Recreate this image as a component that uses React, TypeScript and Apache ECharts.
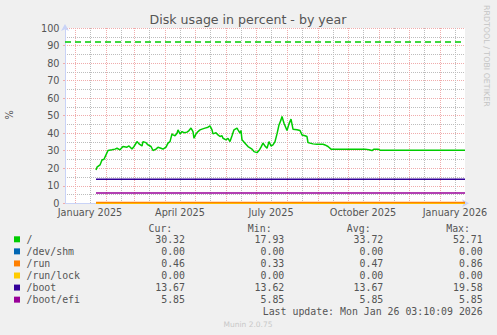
import React, { useEffect, useRef } from "react";
import * as echarts from "echarts";

// ---------- data ----------
const START_UTC = Date.UTC(2024, 11, 22); // first day shown on the x axis
const DAY_COUNT = 401;
const MONTH_NAMES = ["January", "February", "March", "April", "May", "June", "July", "August", "September", "October", "November", "December"];
const categories: string[] = Array.from({ length: DAY_COUNT }, (_, i) =>
  new Date(START_UTC + i * 86400000).toISOString().slice(0, 10)
);
const labelMonths = ["01", "04", "07", "10"];

// "/" usage, days counted from 2024-12-22
const rootDays = [31, 32, 35, 37, 39, 41, 43, 47, 50, 52, 55, 58, 62, 64, 67, 69, 72, 74, 77, 78, 81, 83, 86, 88, 91, 93, 96, 98, 101, 103, 105, 107, 108, 110, 112, 113, 115, 117, 119, 122, 124, 126, 128, 129, 131, 133, 135, 137, 140, 143, 145, 147, 148, 151, 153, 155, 157, 158, 161, 163, 165, 167, 169, 172, 173, 175, 176, 177, 180, 183, 187, 189, 192, 194, 196, 198, 200, 202, 204, 206, 208, 210, 212, 214, 216, 217, 219, 222, 224, 226, 228, 232, 235, 237, 240, 242, 243, 248, 252, 258, 260, 263, 266, 300, 304, 307, 309, 313, 315, 400];
const rootValues = [19.0, 20.6, 21.9, 24.7, 25.1, 27.6, 30.1, 30.5, 30.9, 31.4, 30.5, 32.4, 32.0, 32.7, 31.0, 32.4, 35.2, 33.9, 32.7, 35.2, 34.6, 33.3, 32.4, 30.1, 30.9, 32.0, 31.4, 30.9, 32.0, 34.3, 35.2, 39.6, 39.0, 38.5, 40.0, 41.9, 39.6, 40.9, 40.3, 40.6, 41.5, 42.9, 40.9, 37.1, 39.6, 40.9, 41.9, 42.3, 42.9, 43.4, 44.2, 41.9, 39.6, 40.3, 39.0, 38.1, 38.5, 37.1, 36.2, 37.1, 35.2, 38.5, 41.9, 42.9, 41.9, 40.0, 41.5, 36.2, 34.3, 32.4, 30.9, 29.5, 28.9, 30.1, 32.0, 34.3, 32.7, 31.4, 35.2, 32.7, 33.3, 35.2, 39.6, 44.7, 47.6, 49.5, 45.7, 41.5, 45.3, 48.0, 42.3, 41.9, 41.5, 39.0, 38.5, 38.1, 34.6, 33.9, 33.7, 33.7, 33.3, 32.4, 30.9, 30.9, 30.5, 30.1, 30.9, 30.9, 30.3, 30.32];
const rootWarning = 92;

// the other file systems are flat over the period
const flatDays = [31, 400];
const devShmValues = [0, 0];
const runValues = [0.46, 0.46];
const runLockValues = [0, 0];
const bootValues = [13.67, 13.67];
const bootEfiValues = [5.85, 5.85];

const seriesNames = ["/", "/dev/shm", "/run", "/run/lock", "/boot", "/boot/efi"];
const seriesColors = ["#00cc00", "#0066b3", "#ff8000", "#ffcc00", "#330099", "#990099"];
const statHeaders = ["Cur:", "Min:", "Avg:", "Max:"];
const curValues = ["30.32", "0.00", "0.46", "0.00", "13.67", "5.85"];
const minValues = ["17.93", "0.00", "0.33", "0.00", "13.62", "5.85"];
const avgValues = ["33.72", "0.00", "0.47", "0.00", "13.67", "5.85"];
const maxValues = ["52.71", "0.00", "0.86", "0.00", "19.58", "5.85"];

const titleText = "Disk usage in percent - by year";
const yAxisTitle = "%";
const watermark = "RRDTOOL / TOBI OETIKER";
const lastUpdate = "Last update: Mon Jan 26 03:10:09 2026";
const footer = "Munin 2.0.75";

// ---------- styling ----------
const SANS = "'DejaVu Sans', sans-serif";
const MONO = "'DejaVu Sans Mono', monospace";
const TEXT = "#555555";
const MAJOR = "#f0acac";
const MINOR = "#bdbdbd";
const AXIS = "#c9d3f7";

function txt(x: number, y: number, text: string, opts: any = {}) {
  const align = opts.align || "left";
  const vAlign = opts.vAlign || "middle";
  return {
    type: "text",
    x,
    y,
    rotation: opts.rotation || 0,
    silent: true,
    style: {
      text,
      fill: opts.fill || TEXT,
      font: `${opts.size || 9.9}px ${opts.family || MONO}`,
      align,
      textAlign: align,
      verticalAlign: vAlign,
      textVerticalAlign: vAlign,
    },
  };
}

export default function App() {
  const ref = useRef<HTMLDivElement>(null);

  useEffect(() => {
    if (!ref.current) return;
    const chart = echarts.init(ref.current, null, { renderer: "svg" });

    const pairs = (days: number[], vals: number[]) => days.map((d, i) => [categories[d], vals[i]]);
    const allValues = [
      pairs(rootDays, rootValues),
      pairs(flatDays, devShmValues),
      pairs(flatDays, runValues),
      pairs(flatDays, runLockValues),
      pairs(flatDays, bootValues),
      pairs(flatDays, bootEfiValues),
    ];

    const warningLine = {
      silent: true,
      symbol: ["none", "none"],
      label: { show: false },
      lineStyle: { color: seriesColors[0], type: [6, 4], width: 1.5 },
      data: [{ yAxis: rootWarning }],
    };

    const series: any[] = seriesNames.map((name, i) => ({
      name,
      type: "line",
      data: allValues[i],
      showSymbol: false,
      symbol: "none",
      z: i === 1 || i === 3 ? 3 : 4,
      lineStyle: { color: seriesColors[i], width: 1.5 },
      itemStyle: { color: seriesColors[i] },
      ...(i === 0 ? { markLine: warningLine } : {}),
    }));

    // legend table
    const colRight = [185, 284.3, 383.3, 482.7];
    const headerY = 228.3;
    const rowY0 = 239.3;
    const rowStep = 12.07;
    const legend: any[] = [];
    statHeaders.forEach((h, c) => legend.push(txt(colRight[c] - 12.7, headerY, h, { align: "right" })));
    const cols = [curValues, minValues, avgValues, maxValues];
    seriesNames.forEach((name, r) => {
      const y = rowY0 + r * rowStep;
      legend.push({ type: "rect", silent: true, shape: { x: 14, y: y - 3, width: 6, height: 6 }, style: { fill: seriesColors[r] } });
      legend.push(txt(26.5, y, name));
      cols.forEach((col, c) => legend.push(txt(colRight[c], y, col[r], { align: "right" })));
    });
    legend.push(txt(colRight[3], 311.7, lastUpdate, { align: "right" }));

    const option: any = {
      animation: false,
      backgroundColor: "#f0f0f0",
      grid: {
        left: 65,
        top: 28,
        width: 400,
        height: 175.3,
        show: true,
        backgroundColor: "#ffffff",
        borderWidth: 0,
      },
      xAxis: {
        type: "category",
        data: categories,
        boundaryGap: false,
        min: 0,
        max: DAY_COUNT - 1,
        axisLine: {
          show: true,
          lineStyle: { color: AXIS, width: 1 },
          symbol: ["none", "arrow"],
          symbolSize: [6, 7],
          symbolOffset: [0, 4],
        },
        axisTick: { show: false },
        axisLabel: {
          interval: (_i: number, v: string) => v.endsWith("-16") && labelMonths.includes(v.slice(5, 7)),
          formatter: (v: string) => `${MONTH_NAMES[Number(v.slice(5, 7)) - 1]} ${v.slice(0, 4)}`,
          color: TEXT,
          fontFamily: SANS,
          fontSize: 9.7,
          margin: 4,
        },
        // month starts (red) alternate with mid-month lines (grey)
        splitLine: {
          show: true,
          interval: (_i: number, v: string) => v.endsWith("-01") || v.endsWith("-16"),
          lineStyle: { color: [MAJOR, MINOR], type: "dotted", width: 1 },
        },
        z: 2,
      },
      yAxis: {
        type: "value",
        min: 0,
        max: 100,
        interval: 10,
        axisLine: {
          show: true,
          lineStyle: { color: AXIS, width: 1 },
          symbol: ["none", "arrow"],
          symbolSize: [6, 7],
          symbolOffset: [0, 4],
        },
        axisTick: { show: true, length: 2, lineStyle: { color: MAJOR } },
        axisLabel: { color: TEXT, fontFamily: SANS, fontSize: 9.7, margin: 5.5 },
        splitLine: { show: true, lineStyle: { color: MAJOR, type: "dotted", width: 1 } },
        minorTick: { show: false, splitNumber: 2 },
        minorSplitLine: { show: true, lineStyle: { color: MINOR, type: "dotted", width: 1 } },
        z: 2,
      },
      series,
      graphic: [
        txt(248, 19, titleText, { align: "center", family: SANS, size: 12.6 }),
        txt(9.5, 115, yAxisTitle, { align: "center", family: SANS, size: 9.7, rotation: Math.PI / 2 }),
        txt(486, 5, watermark, { family: SANS, size: 7.9, fill: "#c4c4c4", rotation: -Math.PI / 2 }),
        txt(248, 324, footer, { align: "center", family: SANS, size: 7.5, fill: "#c8c8c8" }),
        ...legend,
      ],
    };

    chart.setOption(option);
    return () => chart.dispose();
  }, []);

  return <div ref={ref} style={{ position: "fixed", left: 0, top: 0, width: 497, height: 335 }} />;
}
